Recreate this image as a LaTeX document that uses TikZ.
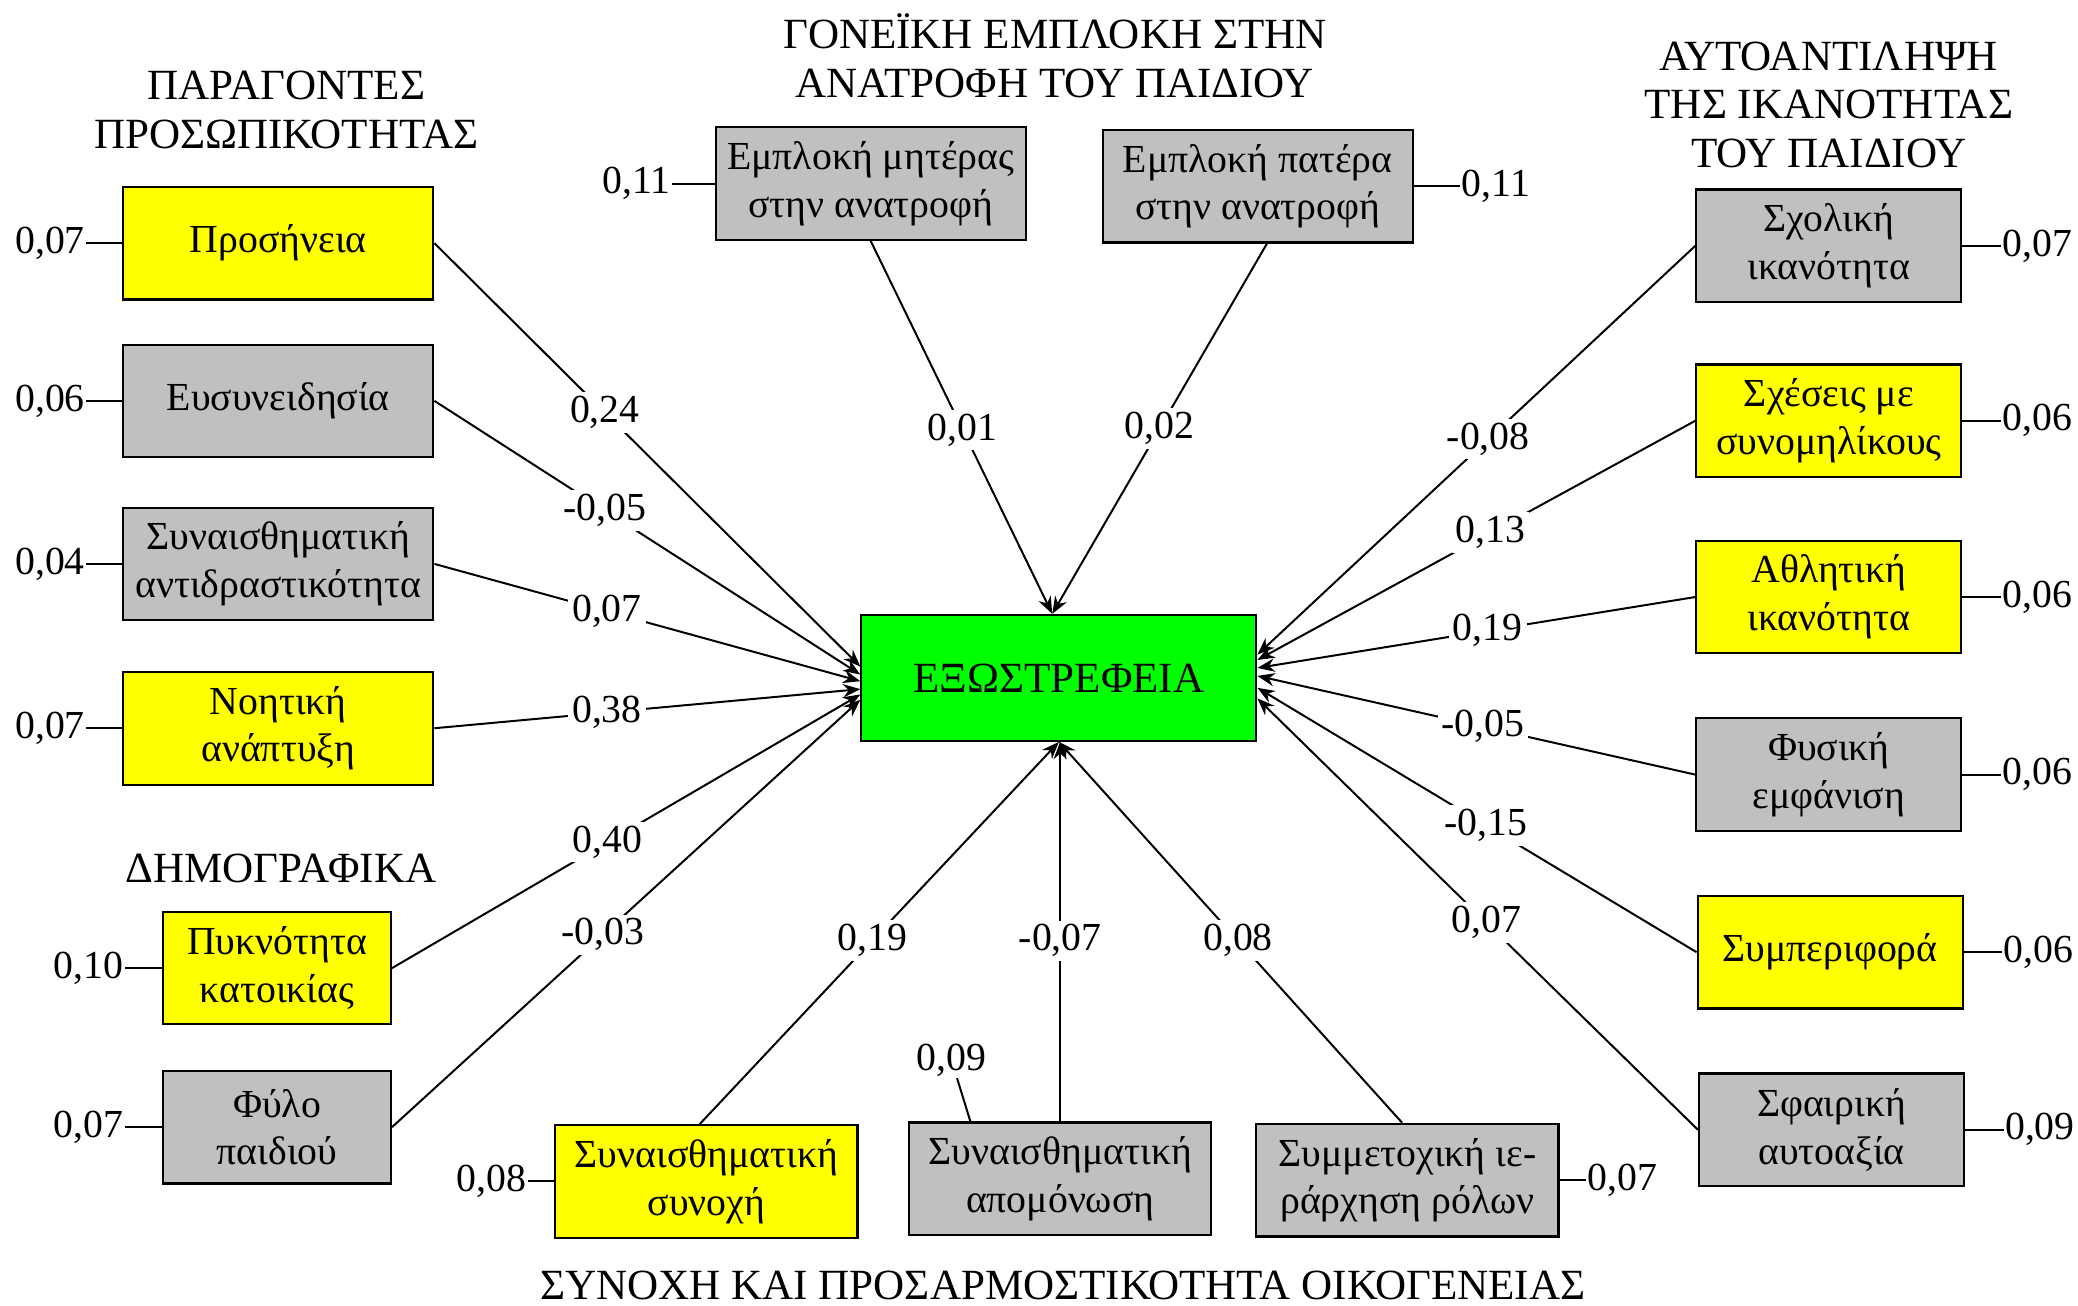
\documentclass[tikz,border=0pt]{standalone}
\usepackage{fontspec}
\setmainfont{Liberation Serif}
\usetikzlibrary{arrows.meta,calc}
\definecolor{boxyellow}{RGB}{255,255,0}
\definecolor{boxgray}{RGB}{192,192,192}
\definecolor{boxgreen}{RGB}{0,255,0}
\begin{document}
\begin{tikzpicture}[x=1pt,y=-1pt,
  every node/.style={font=\fontsize{30}{36}\selectfont},
  box/.style={draw, line width=1.6pt, align=center, inner sep=0pt, minimum height=85pt},
  yel/.style={box, fill=boxyellow},
  gry/.style={box, fill=boxgray},
  coef/.style={fill=white, inner sep=3pt},
  res/.style={inner sep=1pt},
  arr/.style={line width=1.5pt, -{Stealth[length=13pt,width=10pt]}},
  ln/.style={line width=1.5pt},
  ttl/.style={align=center, inner sep=0pt, font=\fontsize{32.5}{36.5}\selectfont}
]
\useasboundingbox (0,0) rectangle (1568,985);

% titles
\node[ttl] (t1) at (216,83) {ΠΑΡΑΓΟΝΤΕΣ\\ΠΡΟΣΩΠΙΚΟΤΗΤΑΣ};
\node[ttl] (t2) at (796,42) {ΓΟΝΕΪΚΗ ΕΜΠΛΟΚΗ ΣΤΗΝ\\ΑΝΑΤΡΟΦΗ ΤΟΥ ΠΑΙΔΙΟΥ};
\node[ttl] (t3) at (1380,79) {ΑΥΤΟΑΝΤΙΛΗΨΗ\\ΤΗΣ ΙΚΑΝΟΤΗΤΑΣ\\ΤΟΥ ΠΑΙΔΙΟΥ};
\node[ttl] (t4) at (212,655) {ΔΗΜΟΓΡΑΦΙΚΑ};
\node[ttl] (t5) at (802,970) {ΣΥΝΟΧΗ ΚΑΙ ΠΡΟΣΑΡΜΟΣΤΙΚΟΤΗΤΑ ΟΙΚΟΓΕΝΕΙΑΣ};

% central
\node[box, fill=boxgreen, minimum width=298pt, minimum height=95pt, font=\fontsize{32.5}{36.5}\selectfont] (exo) at (799,511.5) {ΕΞΩΣΤΡΕΦΕΙΑ};

% left
\node[yel, minimum width=234pt] (pros) at (210,183.5) {Προσήνεια};
\node[gry, minimum width=234pt] (eus) at (210,302.5) {Ευσυνειδησία};
\node[gry, minimum width=234pt] (sad) at (210,425.5) {Συναισθηματική\\αντιδραστικότητα};
\node[yel, minimum width=234pt] (noi) at (210,549.5) {Νοητική\\ανάπτυξη};
\node[yel, minimum width=172pt] (pyk) at (209,730.5) {Πυκνότητα\\κατοικίας};
\node[gry, minimum width=172pt] (fyl) at (209,850.5) {Φύλο\\παιδιού};

% top
\node[gry, minimum width=234pt] (mot) at (657,138.5) {Εμπλοκή μητέρας\\στην ανατροφή};
\node[gry, minimum width=234pt] (fat) at (949,140.5) {Εμπλοκή πατέρα\\στην ανατροφή};

% right
\node[gry, minimum width=200pt] (sch) at (1380,185.5) {Σχολική\\ικανότητα};
\node[yel, minimum width=200pt] (sxe) at (1380,317.5) {Σχέσεις με\\συνομηλίκους};
\node[yel, minimum width=200pt] (ath) at (1380,450.5) {Αθλητική\\ικανότητα};
\node[gry, minimum width=200pt] (fys) at (1380,584.5) {Φυσική\\εμφάνιση};
\node[yel, minimum width=200pt] (sym) at (1381,718.5) {Συμπεριφορά};
\node[gry, minimum width=200pt] (sfa) at (1382,852.5) {Σφαιρική\\αυτοαξία};

% bottom
\node[yel, minimum width=228pt] (syn) at (533,891.5) {Συναισθηματική\\συνοχή};
\node[gry, minimum width=228pt] (apo) at (800,889.5) {Συναισθηματική\\απομόνωση};
\node[gry, minimum width=228pt] (sum) at (1062,890.5) {Συμμετοχική ιε-\\ράρχηση ρόλων};

% paths to center
\draw[arr] (pros.east) -- ([yshift=8.5pt]exo.west) node[coef,pos=0.40]{0,24};
\draw[arr] (eus.east) -- ([yshift=2.5pt]exo.west) node[coef,pos=0.40]{-0,05};
\draw[arr] (sad.east) -- ([yshift=-2.5pt]exo.west) node[coef,pos=0.405]{0,07};
\draw[arr] (noi.east) -- ([yshift=-8.5pt]exo.west) node[coef,pos=0.405]{0,38};
\draw[arr] (pyk.east) -- ([yshift=-12.5pt]exo.west) node[coef,pos=0.46]{0,40};
\draw[arr] (fyl.east) -- ([yshift=-16.5pt]exo.west) node[coef,pos=0.45]{-0,03};

\draw[arr] (sch.west) -- ([yshift=17.5pt]exo.east) node[coef,pos=0.473]{-0,08};
\draw[arr] (sxe.west) -- ([yshift=13.5pt]exo.east) node[coef,pos=0.468]{0,13};
\draw[arr] (ath.west) -- ([yshift=7.5pt]exo.east) node[coef,pos=0.474]{0,19};
\draw[arr] (fys.west) -- ([yshift=1.5pt]exo.east) node[coef,pos=0.485]{-0,05};
\draw[arr] (sym.west) -- ([yshift=-7.5pt]exo.east) node[coef,pos=0.48]{-0,15};
\draw[arr] (sfa.west) -- ([yshift=-15.5pt]exo.east) node[coef,pos=0.48]{0,07};

\draw[arr] (mot.south) -- ([xshift=-5pt]exo.north) node[coef,pos=0.507]{0,01};
\draw[arr] ([xshift=7pt]fat.south) -- ([xshift=-5pt]exo.north) node[coef,pos=0.50]{0,02};

\draw[arr] ([xshift=-5pt]syn.north) -- (exo.south) node[coef,pos=0.48]{0,19};
\draw[arr] (apo.north) -- (apo.north |- exo.south) node[coef,pos=0.476]{-0,07};
\draw[arr] ([xshift=-4pt]sum.north) -- (exo.south) node[coef,pos=0.478]{0,08};

% residuals
\node[res, anchor=east] (r1) at ([xshift=-27pt]pros.west) {0,07};
\draw[ln] (pros.west) -- (r1);
\node[res, anchor=east] (r2) at ([xshift=-27pt]eus.west) {0,06};
\draw[ln] (eus.west) -- (r2);
\node[res, anchor=east] (r3) at ([xshift=-27pt]sad.west) {0,04};
\draw[ln] (sad.west) -- (r3);
\node[res, anchor=east] (r4) at ([xshift=-27pt]noi.west) {0,07};
\draw[ln] (noi.west) -- (r4);
\node[res, anchor=east] (r5) at ([xshift=-28pt]pyk.west) {0,10};
\draw[ln] (pyk.west) -- (r5);
\node[res, anchor=east] (r6) at ([xshift=-28pt]fyl.west) {0,07};
\draw[ln] (fyl.west) -- (r6);

\node[res, anchor=east] (r7) at ([xshift=-32pt]mot.west) {0,11};
\draw[ln] (mot.west) -- (r7);
\node[res, anchor=west] (r8) at ([xshift=35pt]fat.east) {0,11};
\draw[ln] (fat.east) -- (r8);

\node[res, anchor=west] (r9) at ([xshift=29pt]sch.east) {0,07};
\draw[ln] (sch.east) -- (r9);
\node[res, anchor=west] (r10) at ([xshift=29pt]sxe.east) {0,06};
\draw[ln] (sxe.east) -- (r10);
\node[res, anchor=west] (r11) at ([xshift=29pt]ath.east) {0,06};
\draw[ln] (ath.east) -- (r11);
\node[res, anchor=west] (r12) at ([xshift=29pt]fys.east) {0,06};
\draw[ln] (fys.east) -- (r12);
\node[res, anchor=west] (r13) at ([xshift=29pt]sym.east) {0,06};
\draw[ln] (sym.east) -- (r13);
\node[res, anchor=west] (r14) at ([xshift=29pt]sfa.east) {0,09};
\draw[ln] (sfa.east) -- (r14);

\node[res, anchor=east] (r15) at ([xshift=-20pt]syn.west) {0,08};
\draw[ln] (syn.west) -- (r15);
\node[res] (r16) at (718,800) {0,09};
\draw[ln] ([xshift=47pt]apo.north west) -- (r16);
\node[res, anchor=west] (r17) at ([xshift=20pt]sum.east) {0,07};
\draw[ln] (sum.east) -- (r17);
\end{tikzpicture}
\end{document}
